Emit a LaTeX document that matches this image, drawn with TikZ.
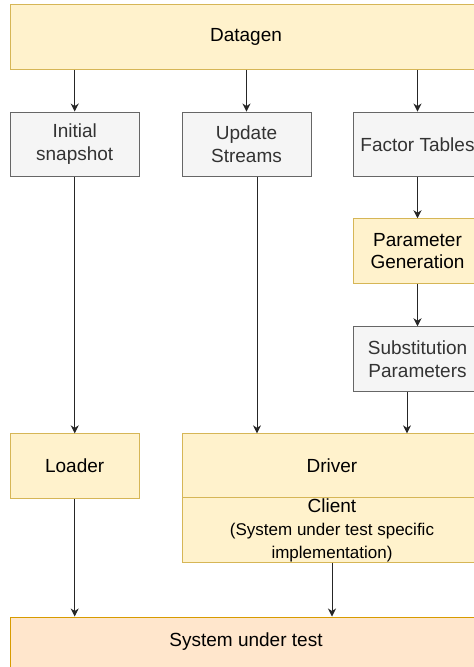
\documentclass[tikz,border=0pt]{standalone}
\usepackage{fontspec}
\setmainfont{Liberation Sans}
\usetikzlibrary{arrows.meta}
\definecolor{yfill}{HTML}{FFF2CC}
\definecolor{ydraw}{HTML}{D6B656}
\definecolor{gfill}{HTML}{F5F5F5}
\definecolor{gdraw}{HTML}{666666}
\definecolor{gtext}{HTML}{333333}
\definecolor{ofill}{HTML}{FFE6CC}
\definecolor{odraw}{HTML}{D79B00}
\tikzset{
  box/.style={rectangle, inner sep=0pt, line width=1pt, align=center,
    font=\fontsize{19}{22.8}\selectfont},
  ybox/.style={box, fill=yfill, draw=ydraw, text=black},
  gbox/.style={box, fill=gfill, draw=gdraw, text=gtext},
  obox/.style={box, fill=ofill, draw=odraw, text=black},
  arr/.style={draw=black!85, line width=1pt, -{Stealth[length=8pt,width=8pt,inset=2.5pt]}},
}
\begin{document}
\begin{tikzpicture}[x=1pt,y=-1pt]
\useasboundingbox (0,0) rectangle (474,667);
\clip (0,0) rectangle (474,667);
\node[ybox, minimum width=472, minimum height=64.6] (datagen) at (246,37) {Datagen};
\node[gbox, minimum width=129, minimum height=64.5] (init) at (74.7,144.3) {Initial\\snapshot};
\node[gbox, minimum width=129, minimum height=64.5] (upd) at (246.5,144.3) {Update\\Streams};
\node[gbox, minimum width=129, minimum height=64.5] (fact) at (417.5,144.3) {Factor Tables};
\node[ybox, minimum width=129, minimum height=64.5] (pgen) at (417.5,251) {Parameter\\Generation};
\node[gbox, minimum width=129, minimum height=64.5] (subst) at (417.5,359) {Substitution\\Parameters};
\node[ybox, minimum width=129, minimum height=64.3] (loader) at (74.7,466) {Loader};
\node[ybox, minimum width=300, minimum height=64.3] (driver) at (332,466) {Driver};
\node[ybox, minimum width=300, minimum height=64.3, font=\fontsize{17}{23}\selectfont] (client) at (332,530)
  {{\fontsize{19}{23}\selectfont Client}\\(System under test specific\\implementation)};
\node[obox, minimum width=472, minimum height=66] (sut) at (246,650) {};
\node[font=\fontsize{19}{22.8}\selectfont, inner sep=0pt] (suttext) at (246,641.7) {System under test};
\draw[arr] (datagen.south -| init.north) -- (init.north);
\draw[arr] (datagen.south -| upd.north) -- (upd.north);
\draw[arr] (datagen.south -| fact.north) -- (fact.north);
\draw[arr] (init.south) -- (loader.north);
\draw[arr] ([xshift=10.5pt]upd.south) -- ([xshift=10.5pt]upd.south |- driver.north);
\draw[arr] (fact.south) -- (pgen.north);
\draw[arr] (pgen.south) -- (subst.north);
\draw[arr] ([xshift=-10.5pt]subst.south) -- ([xshift=-10.5pt]subst.south |- driver.north);
\draw[arr] (loader.south) -- (loader.south |- sut.north);
\draw[arr] (client.south) -- (client.south |- sut.north);
\end{tikzpicture}
\end{document}
